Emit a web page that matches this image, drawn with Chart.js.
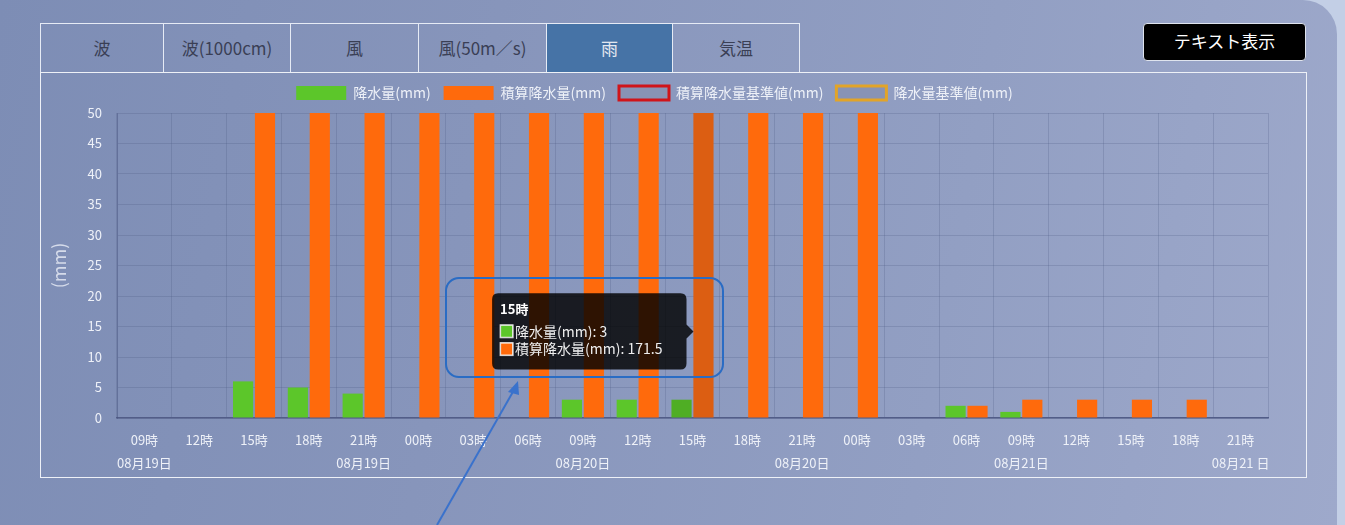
<!DOCTYPE html>
<html><head><meta charset="utf-8">
<script src="https://cdn.jsdelivr.net/npm/chart.js@4.4.1/dist/chart.umd.min.js"></script>
<style>
html,body{margin:0;padding:0;width:1345px;height:525px;overflow:hidden;background:#c3cfe6;font-family:"Noto Sans CJK JP","Noto Sans",sans-serif;}
#panel{position:absolute;left:0;top:0;width:1337px;height:525px;border-radius:0 34px 0 0;
 background:linear-gradient(100deg,#7d8db5 0%,#8795bb 35%,#929fc3 70%,#9ea9cb 100%);}
#tabs{position:absolute;left:40px;top:23px;height:49px;display:flex;border:1px solid #e6ebf5;border-bottom:none;box-sizing:border-box;}
#tabs div{height:48px;line-height:48px;text-align:center;font-size:17px;color:#3a3f55;border-right:1px solid #e6ebf5;box-sizing:border-box;}
#tabs div:last-child{border-right:none;}
#tabs div.on{background:#4673a6;color:#e4e8f0;}
#btn{position:absolute;left:1143px;top:23px;width:163px;height:38px;background:#000;border:1px solid #dfe4ee;border-radius:4px;box-sizing:border-box;color:#fff;font-size:17px;text-align:center;line-height:34px;}
#box{position:absolute;left:40px;top:72px;width:1267px;height:406px;border:1.5px solid #eef1f7;box-sizing:border-box;}
#wrap{position:absolute;left:0;top:0;width:1264px;height:403px;}
#ann{position:absolute;left:0;top:0;pointer-events:none;}
</style></head>
<body>
<div id="panel"></div>
<div id="tabs">
 <div style="width:123px">波</div>
 <div style="width:127px">波(1000cm)</div>
 <div style="width:128px">風</div>
 <div style="width:128px">風(50m／s)</div>
 <div class="on" style="width:126px">雨</div>
 <div style="width:126px">気温</div>
</div>
<div id="btn">テキスト表示</div>
<div id="box"><div id="wrap"><canvas id="c"></canvas></div></div>
<svg id="ann" width="1345" height="525">
 <rect x="446" y="278" width="277" height="99" rx="13" ry="13" fill="none" stroke="#2a6cc4" stroke-width="2"/>
 <line x1="437" y1="525" x2="514" y2="390" stroke="#3a72cc" stroke-width="2"/>
 <polygon points="518,381 508,392 519,395" fill="#3a72cc"/>
</svg>
<script>
const timeLabels = ['09時','12時','15時','18時','21時','00時','03時','06時','09時','12時','15時','18時','21時','00時','03時','06時','09時','12時','15時','18時','21時'];
const dateLabels = ['08月19日','','','','08月19日','','','','08月20日','','','','08月20日','','','','08月21日','','','','08月21 日'];
const rainfall = [null,null,6,5,4,null,null,null,3,3,3,null,null,null,null,2,1,null,null,null,null];
const cumulative = [null,null,150,155,159,160,161,165.5,168.5,171.5,171.5,172,172.5,173,null,2,3,3,3,3,null];
const yTicks = [0,5,10,15,20,25,30,35,40,45,50];
const hoverIndex = 10;

const labels = timeLabels.map((t,i)=>[t,dateLabels[i]]);
const txt = '#eef1f8';

Chart.Tooltip.positioners.fixedPos = function(elements){
  if(!elements.length) return false;
  const ch = this.chart;
  return {x: ch.scales.x.getPixelForValue(hoverIndex)+3, y: ch.scales.y.getPixelForValue(14.2)};
};

const legendH = {id:'legendH', beforeInit(chart){
  const f = chart.legend.fit;
  chart.legend.fit = function(){ f.call(this); this.height = 40; };
}};

const chart = new Chart(document.getElementById('c'), {
  type:'bar',
  data:{labels, datasets:[
    {label:'降水量(mm)', data:rainfall, backgroundColor:'#5cc62a', hoverBackgroundColor:'#4fae24', borderWidth:0},
    {label:'積算降水量(mm)', data:cumulative, backgroundColor:'#ff6a0c', hoverBackgroundColor:'#dc5e12', borderWidth:0},
    {type:'line', label:'積算降水量基準値(mm)', data:[], backgroundColor:'#8893b5', borderColor:'#d0141a', borderWidth:3},
    {type:'line', label:'降水量基準値(mm)', data:[], backgroundColor:'#8893b5', borderColor:'#e2a428', borderWidth:3}
  ]},
  plugins:[legendH],
  options:{
    responsive:true, maintainAspectRatio:false, animation:false, events:[],
    layout:{padding:{left:0,right:37,top:0,bottom:6}},
    datasets:{bar:{categoryPercentage:0.8, barPercentage:0.92}},
    plugins:{
      legend:{position:'top', labels:{color:txt, boxWidth:50, boxHeight:14, padding:13, font:{size:14, family:'"Noto Sans CJK JP"'}}},
      tooltip:{
        position:'fixedPos', mode:'index', intersect:false,
        filter:(it)=>it.datasetIndex<2,
        xAlign:'right', yAlign:'center',
        backgroundColor:'rgba(0,0,0,0.82)', titleColor:'#fff', bodyColor:'#eee',
        titleFont:{size:13, weight:'bold', family:'"Noto Sans CJK JP"'}, bodyFont:{size:14, family:'"Noto Sans CJK JP"'},
        padding:{left:8,right:24,top:8,bottom:12}, cornerRadius:6, caretSize:7, caretPadding:2,
        boxWidth:13, boxHeight:13, bodySpacing:1, titleMarginBottom:6,
        callbacks:{
          title:(items)=>items.length?timeLabels[items[0].dataIndex]:'',
          labelColor:(ctx)=>({borderColor:'#d8d8d8', backgroundColor:ctx.datasetIndex===0?'#5cc62a':'#ff6a0c', borderWidth:1})
        }
      }
    },
    scales:{
      x:{
        grid:{color:'rgba(70,82,125,0.22)', offset:true, drawTicks:false},
        border:{color:'#525d88', width:1.5},
        ticks:{color:txt, font:{size:13, lineHeight:1.75, family:'"Noto Sans CJK JP"'}, padding:11, maxRotation:0, autoSkip:false},
        afterFit(s){ s.height = 52; }
      },
      y:{
        min:0, max:50,
        afterBuildTicks(s){ s.ticks = yTicks.map(v=>({value:v})); },
        grid:{color:'rgba(70,82,125,0.22)', drawTicks:false},
        border:{color:'rgba(70,82,125,0.5)'},
        ticks:{color:txt, font:{size:13, family:'"Noto Sans CJK JP"'}, padding:15},
        title:{display:true, text:'(mm)', color:'#d5dbea', font:{size:18, family:'"Noto Sans CJK JP"'}, padding:{top:7,bottom:10}},
        afterFit(s){ s.width = 76; }
      }
    }
  }
});
const act = [{datasetIndex:0,index:hoverIndex},{datasetIndex:1,index:hoverIndex}];
chart.setActiveElements(act);
chart.tooltip.setActiveElements(act,{x:0,y:0});
chart.update();
</script>
</body></html>
